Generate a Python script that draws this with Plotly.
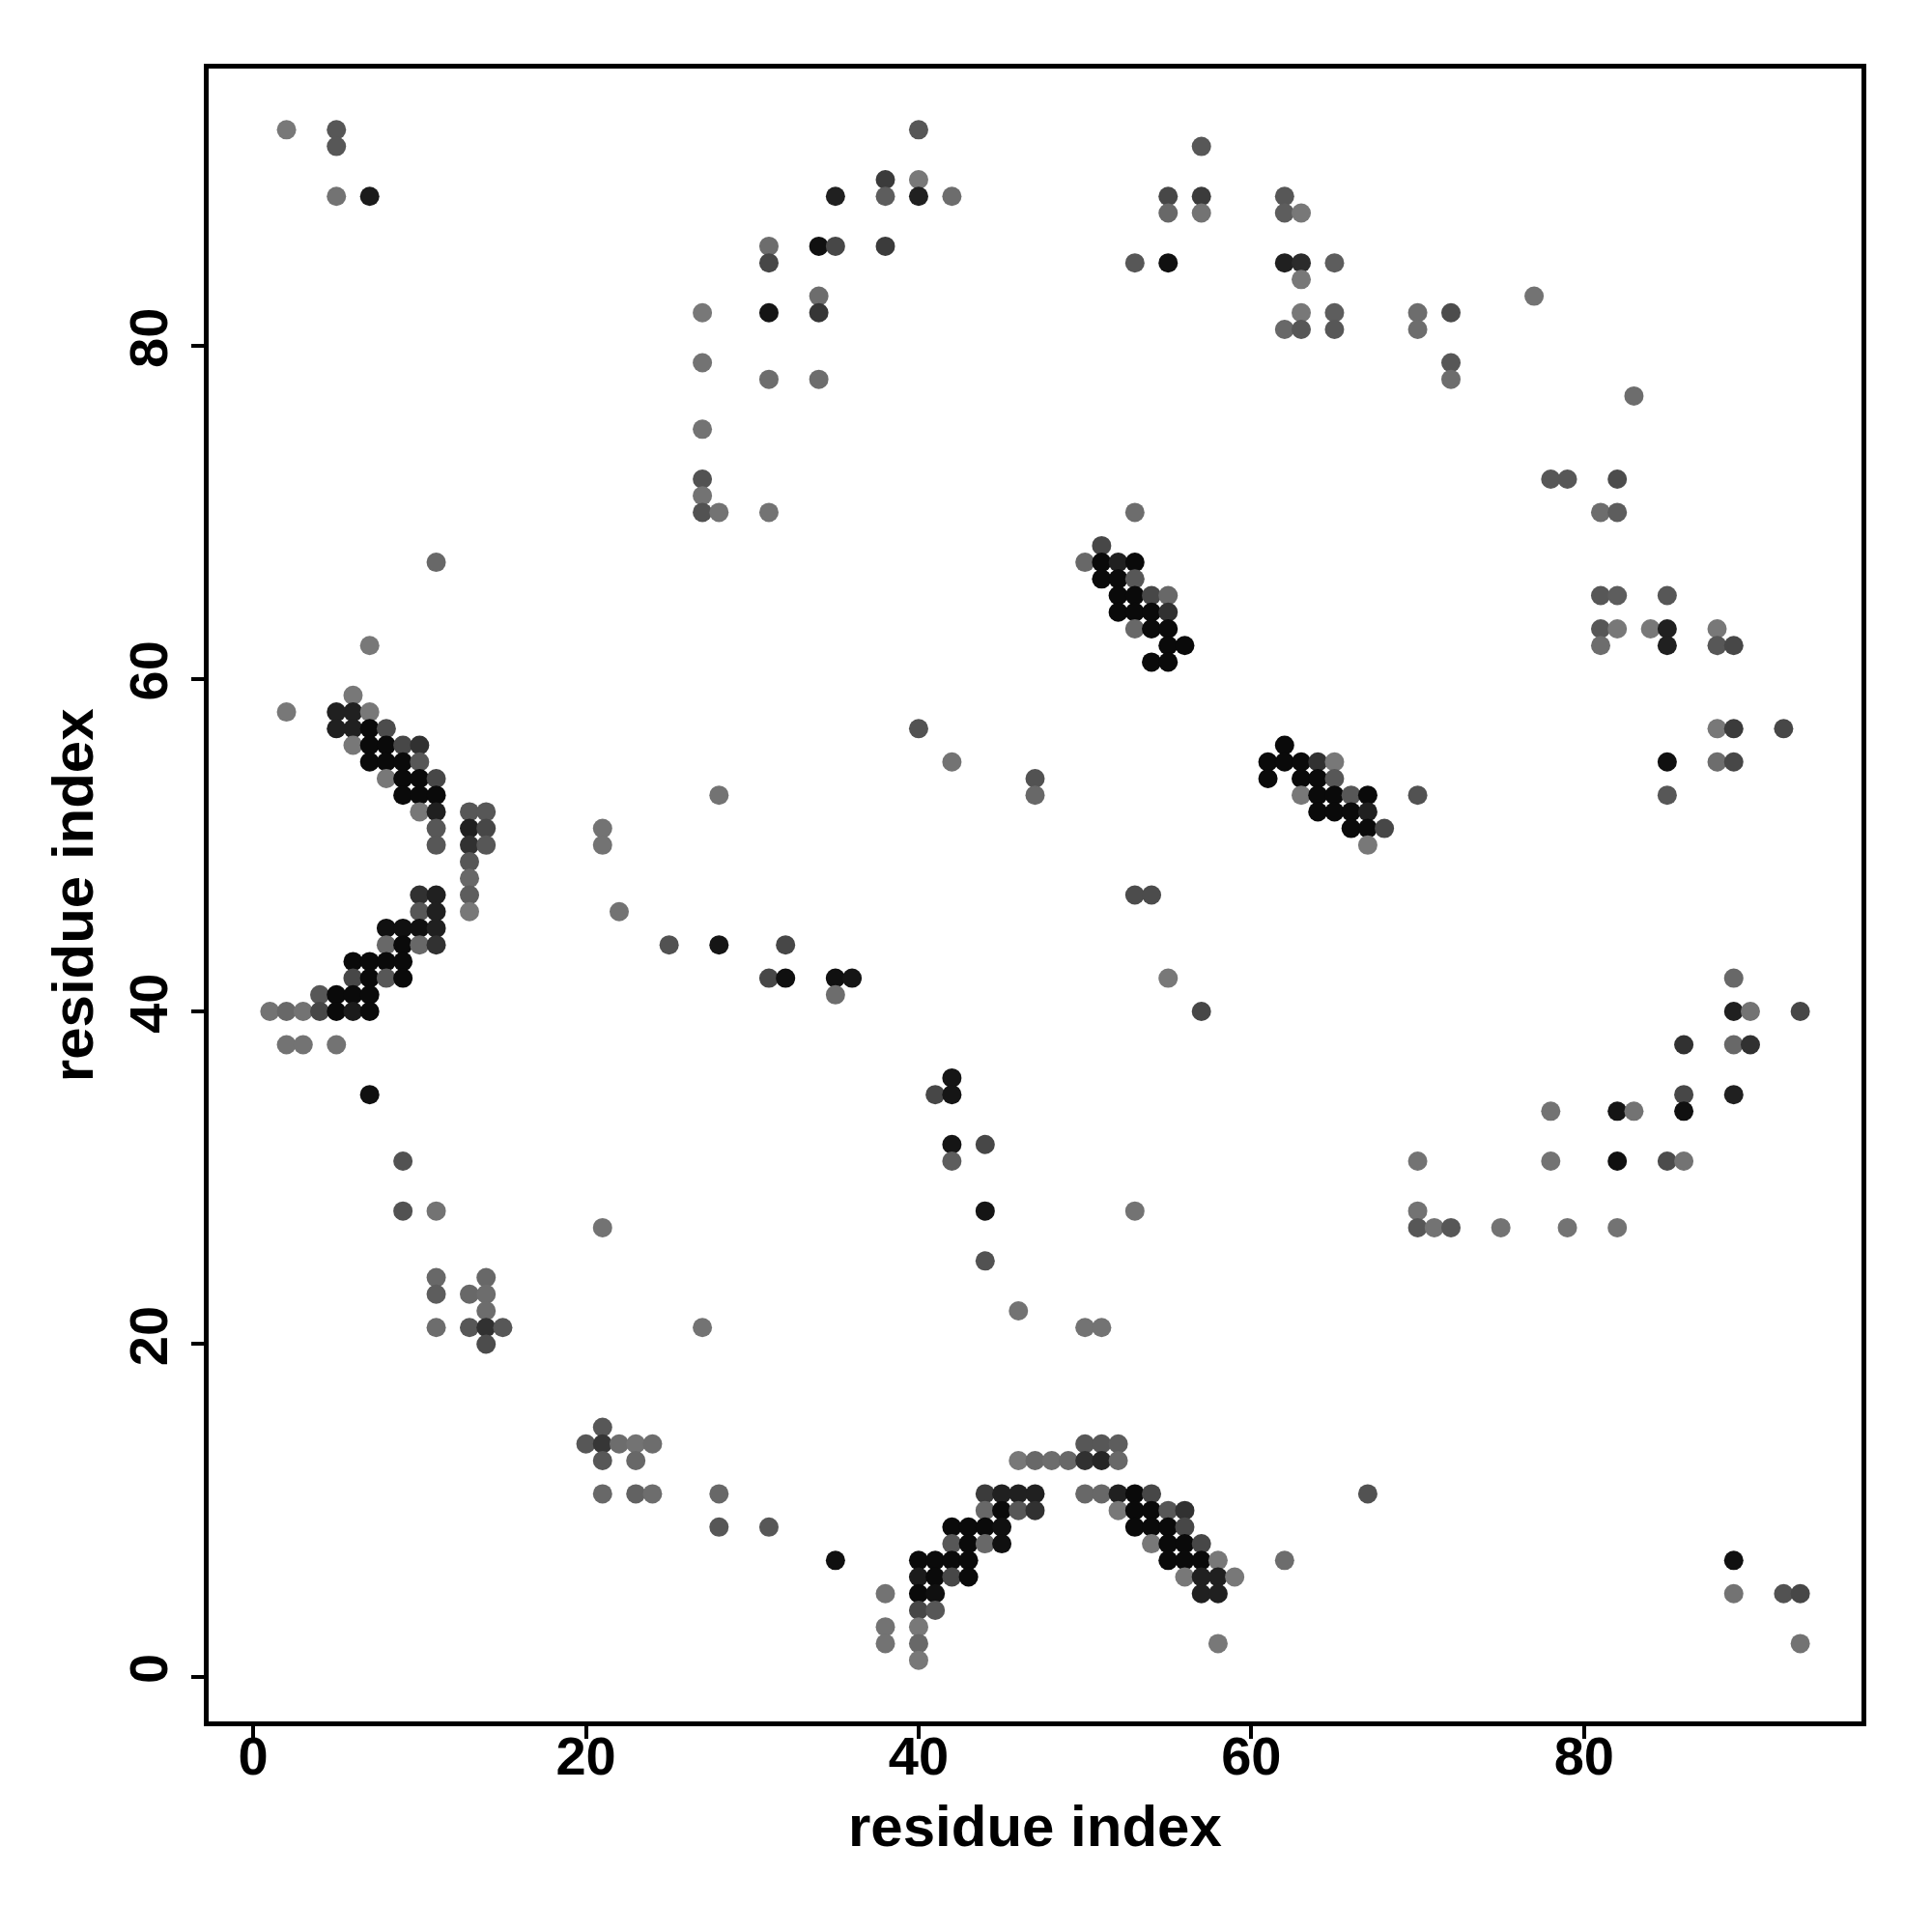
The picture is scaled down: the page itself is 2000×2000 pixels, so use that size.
import plotly.graph_objects as go

# contact map: residue i (x), residue j (y), contact score (0 = light gray, 1 = black)
res_i = [
    2, 5, 5, 5, 7,
    40, 38, 40, 35, 38, 40, 42, 34, 35, 38,
    31, 31, 31, 34, 34, 27, 27, 31, 34, 27, 27, 27, 27, 28, 31,
    57, 55, 57, 55, 57, 62, 62, 63, 53, 55, 62, 63, 65, 63, 63, 65, 62, 63, 65,
    70, 70, 72, 72, 72, 77, 83, 78, 79, 82, 81, 82, 53,
    51, 50, 51, 52, 53, 51, 52, 53, 52, 53, 54, 55, 52, 53, 54, 55, 53, 54, 55, 55, 56, 54, 55,
    81, 82, 85, 81, 82, 84, 85, 88, 81, 85, 88, 89, 88, 89, 92, 85, 88, 89, 85,
    11, 7, 6, 2, 5, 6, 7, 5, 6, 7, 8, 6, 7, 8, 9, 10, 7, 8, 9, 10, 8, 9, 10, 11,
    9, 10, 11, 10, 11, 13, 14, 11, 13, 14, 11, 13, 14, 13, 13, 13, 13,
    10, 11, 10, 11, 8, 9, 10, 11, 8, 9, 10, 11, 6, 7, 8, 9, 6, 7, 8, 9,
    4, 5, 6, 7, 1, 2, 3, 4, 5, 6, 7, 2, 3, 5, 7,
    40, 42, 47, 47, 28, 21, 21, 22, 25, 28, 32, 31, 32, 35, 36, 35, 53, 54, 55, 57, 70,
    62, 61, 62, 63, 64, 65, 61, 63, 64, 65, 63, 64, 65, 66, 67, 64, 65, 66, 67, 66, 67, 68, 67,
    89, 89, 90, 93, 86, 89, 90, 86, 89, 86,
    78, 78, 82, 83, 82, 85, 86,
    70, 70, 70, 71, 72, 75, 79, 82,
    9, 9, 11, 21, 27,
    11, 11, 11, 14, 13, 14, 14, 13, 14, 15, 14,
    41, 42, 42, 42, 42, 44, 44, 44, 46, 50, 51, 53,
    21, 20, 21, 22, 23, 24, 21, 23, 21, 23, 24, 28, 28, 31, 35, 38, 38, 38,
    46, 47, 48, 49, 50, 51, 52, 50, 51, 52,
    44, 45, 46, 47, 50, 51, 52, 53, 54,
    44, 45, 46, 47, 52, 53, 54, 55, 56,
    42, 43, 44, 45, 53, 54, 55, 56,
    42, 43, 44, 45, 54, 55, 56, 57,
    40, 41, 42, 43, 55, 56, 57, 58,
    40, 41, 42, 43, 56, 57, 58, 59,
    40, 41, 57, 58,
    40, 41, 40, 40, 40, 58,
    67, 62, 89, 89, 92, 93, 93,
]

res_j = [
    93, 93, 92, 89, 89,
    93, 90, 90, 89, 89, 89, 89, 86, 86, 86,
    86, 85, 82, 83, 82, 82, 79, 78, 78, 75, 72, 71, 70, 70, 70,
    92, 89, 89, 88, 88, 89, 88, 88, 85, 85, 85, 85, 85, 84, 82, 82, 81, 81, 81,
    82, 81, 82, 79, 78, 83, 77, 72, 72, 72, 70, 70, 70,
    68, 67, 67, 67, 67, 66, 66, 66, 65, 65, 65, 65, 64, 64, 64, 64, 63, 63, 63, 62, 62, 61, 61,
    65, 65, 65, 63, 63, 63, 63, 63, 62, 62, 62, 62, 57, 57, 57, 55, 55, 55, 53,
    67, 62, 59, 58, 58, 58, 58, 57, 57, 57, 57, 56, 56, 56, 56, 56, 55, 55, 55, 55, 54, 54, 54, 54,
    53, 53, 53, 52, 52, 52, 52, 51, 51, 51, 50, 50, 50, 49, 48, 47, 46,
    47, 47, 46, 46, 45, 45, 45, 45, 44, 44, 44, 44, 43, 43, 43, 43, 42, 42, 42, 42,
    41, 41, 41, 41, 40, 40, 40, 40, 40, 40, 40, 38, 38, 38, 35,
    57, 55, 54, 53, 53, 51, 50, 46, 44, 44, 44, 42, 42, 42, 42, 41, 47, 47, 42, 40, 53,
    56, 55, 55, 55, 55, 55, 54, 54, 54, 54, 53, 53, 53, 53, 53, 52, 52, 52, 52, 51, 51, 51, 50,
    42, 40, 40, 40, 38, 38, 38, 35, 35, 34,
    34, 31, 34, 34, 31, 31, 31,
    31, 28, 27, 27, 27, 27, 27, 27,
    31, 28, 28, 27, 21,
    24, 23, 21, 24, 23, 23, 22, 21, 21, 21, 20,
    35, 36, 35, 32, 31, 32, 28, 25, 22, 21, 21, 28,
    15, 14, 14, 14, 14, 14, 13, 13, 11, 11, 11, 11, 9, 9, 7, 5, 3, 2,
    13, 13, 13, 13, 14, 14, 14, 13, 13, 13,
    11, 11, 11, 11, 11, 11, 11, 11, 11,
    10, 10, 10, 10, 10, 10, 10, 10, 10,
    9, 9, 9, 9, 9, 9, 9, 9,
    8, 8, 8, 8, 8, 8, 8, 8,
    7, 7, 7, 7, 7, 7, 7, 7,
    6, 6, 6, 6, 6, 6, 6, 6,
    5, 5, 5, 5,
    4, 4, 3, 2, 1, 2,
    11, 7, 7, 5, 5, 5, 2,
]

score = [
    0.0, 0.3, 0.3, 0.05, 0.85,
    0.3, 0.55, 0.0, 0.8, 0.25, 0.8, 0.1, 0.95, 0.45, 0.55,
    0.1, 0.45, 0.9, 0.1, 0.6, 0.0, 0.05, 0.1, 0.1, 0.05, 0.35, 0.05, 0.35, 0.05, 0.05,
    0.3, 0.45, 0.55, 0.15, 0.05, 0.3, 0.25, 0.0, 0.3, 0.95, 0.8, 0.7, 0.25, 0.0, 0.0, 0.25, 0.15, 0.3, 0.3,
    0.1, 0.1, 0.4, 0.3, 0.1, 0.05, 0.1, 0.3, 0.3, 0.4, 0.1, 0.25, 0.1,
    0.45, 0.15, 1.0, 0.8, 1.0, 1.0, 1.0, 0.3, 1.0, 1.0, 0.45, 0.15, 1.0, 1.0, 1.0, 0.65, 0.15, 1.0, 1.0, 1.0, 1.0, 1.0, 1.0,
    0.3, 0.25, 0.3, 0.3, 0.0, 0.0, 0.8, 0.0, 0.1, 0.8, 0.3, 0.45, 0.0, 0.55, 0.45, 0.95, 0.1, 0.45, 0.3,
    0.15, 0.0, 0.0, 0.0, 0.8, 0.8, 0.0, 0.8, 0.8, 1.0, 0.4, 0.0, 1.0, 1.0, 0.45, 0.65, 1.0, 1.0, 1.0, 0.3, 0.0, 1.0, 1.0, 0.45,
    1.0, 1.0, 1.0, 0.0, 0.8, 0.3, 0.3, 0.3, 0.8, 0.45, 0.3, 0.65, 0.3, 0.3, 0.15, 0.25, 0.0,
    0.65, 0.8, 0.3, 0.8, 0.95, 0.95, 0.95, 0.8, 0.15, 1.0, 0.15, 0.65, 1.0, 1.0, 1.0, 1.0, 0.45, 1.0, 0.3, 1.0,
    0.3, 1.0, 1.0, 1.0, 0.05, 0.15, 0.05, 0.45, 1.0, 0.85, 1.0, 0.05, 0.05, 0.05, 0.95,
    0.35, 0.05, 0.35, 0.15, 0.05, 0.05, 0.05, 0.05, 0.35, 0.9, 0.45, 0.45, 0.95, 0.95, 0.9, 0.1, 0.4, 0.4, 0.0, 0.45, 0.35,
    1.0, 1.0, 1.0, 1.0, 0.65, 0.0, 1.0, 1.0, 1.0, 0.3, 0.0, 1.0, 1.0, 0.3, 1.0, 1.0, 1.0, 1.0, 0.8, 1.0, 1.0, 0.45, 0.0,
    0.15, 0.8, 0.05, 0.45, 0.65, 0.15, 0.65, 0.45, 0.8, 0.95,
    0.05, 0.05, 0.9, 0.05, 0.95, 0.4, 0.05,
    0.05, 0.05, 0.3, 0.05, 0.3, 0.05, 0.05, 0.05,
    0.35, 0.35, 0.05, 0.05, 0.05,
    0.15, 0.25, 0.1, 0.15, 0.15, 0.1, 0.1, 0.3, 0.65, 0.3, 0.4,
    0.45, 0.9, 0.9, 0.9, 0.25, 0.45, 0.9, 0.35, 0.05, 0.05, 0.05, 0.05,
    0.3, 0.3, 0.6, 0.1, 0.05, 0.1, 0.3, 0.15, 0.15, 0.2, 0.1, 0.15, 0.3, 0.3, 0.95, 0.05, 0.05, 0.05,
    0.0, 0.15, 0.1, 0.15, 0.3, 0.3, 0.25, 0.65, 0.75, 0.15,
    0.55, 0.8, 0.8, 0.8, 0.15, 0.15, 0.8, 1.0, 0.45,
    0.15, 1.0, 0.3, 0.65, 0.0, 1.0, 1.0, 0.3, 0.65,
    1.0, 1.0, 1.0, 0.95, 1.0, 1.0, 1.0, 0.45,
    0.3, 1.0, 0.15, 0.95, 0.0, 1.0, 1.0, 0.45,
    1.0, 1.0, 1.0, 1.0, 1.0, 1.0, 1.0, 0.0,
    0.85, 1.0, 0.45, 1.0, 0.0, 0.8, 0.8, 0.0,
    1.0, 0.95, 0.8, 0.8,
    0.45, 0.3, 0.0, 0.15, 0.0, 0.0,
    0.35, 0.1, 0.95, 0.05, 0.35, 0.45, 0.05,
]

tick_vals = [0, 20, 40, 60, 80]
axis_label = "residue index"

assert len(res_i) == len(res_j) == len(score)

FONT = "Liberation Sans, Arial, sans-serif"

fig = go.Figure(
    go.Scatter(
        x=res_i,
        y=res_j,
        mode="markers",
        marker=dict(
            size=20,
            color=score,
            colorscale=[[0, "#787878"], [1, "#0a0a0a"]],
            cmin=0,
            cmax=1,
            showscale=False,
            line=dict(width=0),
        ),
        hoverinfo="x+y",
    )
)

axis_common = dict(
    range=[-2.68, 96.68],
    tickvals=tick_vals,
    ticks="outside",
    ticklen=13,
    tickwidth=4,
    tickcolor="black",
    showline=True,
    linewidth=5,
    linecolor="black",
    mirror=True,
    showgrid=False,
    zeroline=False,
    automargin=False,
    tickfont=dict(family=FONT, size=56, color="black", weight="bold"),
)

fig.update_xaxes(**axis_common, ticklabelstandoff=-30)
fig.update_yaxes(**axis_common, tickangle=-90, ticklabelstandoff=3)

title_font = dict(family=FONT, size=60, color="black", weight="bold")
fig.add_annotation(
    text=axis_label, xref="paper", yref="paper", x=0.5, y=-0.0635,
    xanchor="center", yanchor="middle", showarrow=False, font=title_font,
)
fig.add_annotation(
    text=axis_label, xref="paper", yref="paper", x=-0.082, y=0.5,
    xanchor="center", yanchor="middle", showarrow=False, textangle=-90, font=title_font,
)

fig.update_layout(
    width=2000,
    height=2000,
    margin=dict(l=208, r=81, t=63, b=226),
    plot_bgcolor="white",
    paper_bgcolor="white",
    showlegend=False,
)

fig.write_html("out.html")
